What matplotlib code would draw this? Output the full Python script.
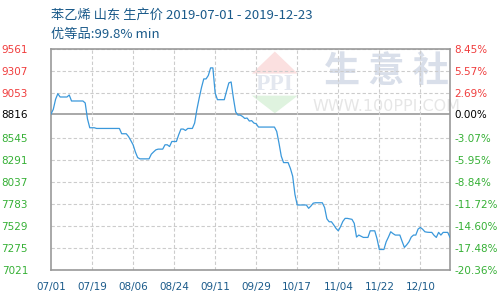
import numpy as np
import pandas as pd
import matplotlib
matplotlib.use('Agg')
from matplotlib import pyplot as plt
from matplotlib.patches import Polygon

title = '苯乙烯 山东 生产价 2019-07-01 - 2019-12-23'
subtitle = '优等品:99.8% min'
start = '2019-07-01'
base = 8816

# daily price, starting 2019-07-01
prices = [
    8816, 8870, 8985, 9050, 9012, 9012, 9012, 9012, 9035, 8966,
    8966, 8966, 8966, 8966, 8966, 8943, 8760, 8658, 8658, 8658,
    8650, 8650, 8650, 8650, 8650, 8650, 8650, 8650, 8650, 8650,
    8650, 8589, 8589, 8589, 8557, 8511, 8462, 8380, 8315, 8300,
    8300, 8300, 8300, 8300, 8354, 8380, 8404, 8412, 8412, 8412,
    8462, 8462, 8442, 8500, 8500, 8500, 8577, 8643, 8643, 8627,
    8650, 8650, 8650, 8712, 8870, 9000, 9120, 9220, 9220, 9260,
    9347, 9347, 9058, 8981, 8981, 8981, 8981, 9080, 9174, 9185,
    9000, 8840, 8804, 8804, 8788, 8765, 8770, 8735, 8740, 8712,
    8704, 8666, 8666, 8666, 8666, 8666, 8666, 8666, 8666, 8615,
    8480, 8330, 8257, 8257, 8257, 8190, 8100, 7890, 7769, 7769,
    7769, 7769, 7769, 7731, 7757, 7790, 7795, 7795, 7795, 7795,
    7740, 7610, 7576, 7576, 7540, 7500, 7472, 7520, 7580, 7615,
    7615, 7610, 7604, 7558, 7400, 7423, 7410, 7396, 7396, 7396,
    7472, 7472, 7472, 7380, 7257, 7257, 7257, 7345, 7400, 7461,
    7440, 7423, 7423, 7423, 7350, 7281, 7310, 7345, 7400, 7423,
    7423, 7492, 7511, 7490, 7461, 7456, 7454, 7454, 7420, 7396,
    7454, 7423, 7454, 7454, 7454, 7396,
]

yticks = [9561, 9307, 9053, 8816, 8545, 8291, 8037, 7783, 7529, 7275, 7021]
pct_labels = ['8.45%', '5.57%', '2.69%', '0.00%', '-3.07%', '-5.95%',
              '-8.84%', '-11.72%', '-14.60%', '-17.48%', '-20.36%']
xtick_dates = ['2019-07-01', '2019-07-19', '2019-08-06', '2019-08-24', '2019-09-11',
               '2019-09-29', '2019-10-17', '2019-11-04', '2019-11-22', '2019-12-10']
xtick_labels = ['07/01', '07/19', '08/06', '08/24', '09/11',
                '09/29', '10/17', '11/04', '11/22', '12/10']

dates = pd.date_range(start, periods=len(prices), freq='D')
xt = pd.to_datetime(xtick_dates)

red = '#f03c3c'
green = '#35b035'
blue_txt = '#1a5a8a'
grid_c = '#cccccc'
frame_c = '#999999'
cjk = ['Noto Sans CJK SC', 'DejaVu Sans']

fig = plt.figure(figsize=(5, 3), dpi=100)
ax = fig.add_axes([0.102, 0.1, 0.798, 0.7357])

ax.set_xlim(dates[0], dates[-1])
ax.set_ylim(yticks[-1], yticks[0])

# watermark
ax.text(0.84, 0.9, '生 意 社', transform=ax.transAxes, ha='center', va='center',
        fontsize=26, color='#d9dfea', family=cjk, fontweight='bold', zorder=0)
ax.text(0.84, 0.742, 'WWW.100PPI.COM', transform=ax.transAxes, ha='center', va='center',
        fontsize=11.5, color='#e6e6e6', zorder=0)
lx, lw = 0.561, 0.115
ax.add_patch(Polygon([[lx, 0.99], [lx - lw / 2, 0.89], [lx + lw / 2, 0.89]],
                     closed=True, transform=ax.transAxes, color='#fbe0e0', lw=0, zorder=0))
ax.add_patch(Polygon([[lx, 0.71], [lx - lw / 2, 0.79], [lx + lw / 2, 0.79]],
                     closed=True, transform=ax.transAxes, color='#dff3df', lw=0, zorder=0))
ax.text(lx, 0.84, 'PPI', transform=ax.transAxes, ha='center', va='center',
        fontsize=17, color='#e3e7ef', fontweight='bold', family='Liberation Serif', zorder=0)

# grid
for y in yticks:
    if y == base:
        ax.axhline(y, color=frame_c, lw=1.2, zorder=1)
    else:
        ax.axhline(y, color=grid_c, lw=0.8, ls=(0, (3, 2)), zorder=1)
for x in xt[1:]:
    ax.axvline(x, color=grid_c, lw=0.8, ls=(0, (3, 2)), zorder=1)

ax.plot(dates, prices, color='#3a98db', lw=0.9, zorder=3)

for s in ax.spines.values():
    s.set_color(frame_c)
    s.set_linewidth(1.2)

ax.set_yticks(yticks)
ax.set_yticklabels([str(v) for v in yticks])
ax.set_xticks(xt)
ax.set_xticklabels(xtick_labels)
ax.tick_params(axis='y', length=0, pad=16.5, labelsize=7.5)
ax.tick_params(axis='x', length=0, pad=8.5, labelsize=7.5, labelcolor=blue_txt)

ax2 = ax.twinx()
ax2.set_ylim(ax.get_ylim())
ax2.set_yticks(yticks)
ax2.set_yticklabels(pct_labels)
ax2.tick_params(axis='y', length=0, pad=3, labelsize=7.5)
for s in ax2.spines.values():
    s.set_visible(False)

for lab_l, lab_r, v in zip(ax.get_yticklabels(), ax2.get_yticklabels(), yticks):
    c = red if v > base else ('black' if v == base else green)
    lab_l.set_color(c)
    lab_r.set_color(c)

fig.text(0.102, 0.95, title, fontsize=9.5, color=blue_txt, va='center', family=cjk)
fig.text(0.102, 0.885, subtitle, fontsize=9.5, color=blue_txt, va='center', family=cjk)

fig.savefig('out.png', dpi=100)
